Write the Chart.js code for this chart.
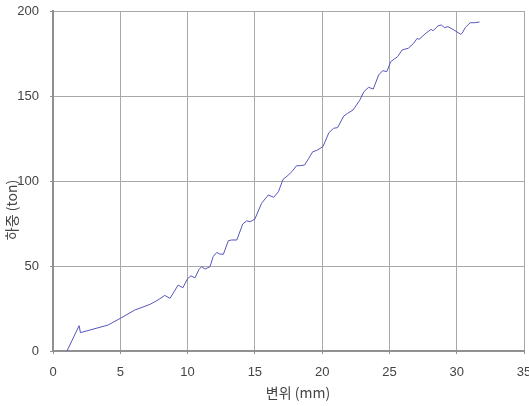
<!DOCTYPE html>
<html>
<head>
<meta charset="utf-8">
<script src="https://cdn.jsdelivr.net/npm/chart.js@4"></script>
<style>
html,body{margin:0;padding:0;background:#fff;}
#wrap{width:529px;height:406px;position:relative;}
</style>
</head>
<body>
<div id="wrap"><canvas id="c" width="529" height="406"></canvas></div>
<script>
// Displacement (mm)
const dispMm = [1.04, 1.94, 2.04, 4.1, 5.0, 6.08, 7.2, 7.8, 8.3, 8.7, 9.3, 9.65, 10.0, 10.25, 10.55, 10.85, 11.05, 11.3, 11.67, 11.9, 12.17, 12.4, 12.66, 13.03, 13.28, 13.66, 14.1, 14.4, 14.65, 15.0, 15.5, 16.0, 16.4, 16.75, 17.1, 17.4, 17.75, 18.1, 18.37, 18.7, 19.0, 19.3, 19.6, 20.06, 20.5, 20.85, 21.15, 21.6, 21.9, 22.3, 22.8, 23.1, 23.45, 23.8, 24.2, 24.5, 24.8, 25.1, 25.6, 25.95, 26.4, 26.8, 27.06, 27.2, 27.7, 28.1, 28.25, 28.6, 28.85, 29.1, 29.35, 29.8, 30.3, 30.4, 30.65, 31.0, 31.3, 31.7];
// Load (ton)
const loadTon = [0, 14.9, 10.8, 15.3, 19.2, 24.1, 27.4, 30, 32.7, 31, 38.8, 37.2, 42.5, 44.2, 43, 48, 49.6, 48.2, 49.6, 55.5, 58, 57, 56.9, 64.9, 65.3, 65.3, 74.7, 76.6, 76, 77.6, 86.9, 91.8, 90.4, 93.7, 101, 102.9, 105.5, 109, 109, 109.4, 113.3, 117.2, 118, 120.2, 128.4, 131, 131.4, 138.2, 139.8, 141.8, 147.6, 152.5, 155.1, 154.1, 162.4, 164.9, 164.3, 170.2, 173.1, 177.1, 178.1, 181, 183.9, 183.3, 186.9, 189.2, 188.4, 191.2, 191.8, 190.2, 190.8, 188.8, 186.3, 186.9, 190.4, 193.1, 193.1, 193.5];
const xTicks = [0, 5, 10, 15, 20, 25, 30, 35];
const yTicks = [0, 50, 100, 150, 200];
const xTitle = '변위 (mm)';
const yTitle = '하중 (ton)';

const points = dispMm.map((x, i) => ({x: x, y: loadTon[i]}));
const FONT = "'Noto Sans CJK KR', 'DejaVu Sans', sans-serif";
const NUMFONT = "'Liberation Sans', 'DejaVu Sans', sans-serif";

const titlePlugin = {
  id: 'axisTitles',
  afterDraw(chart) {
    const ctx = chart.ctx;
    ctx.save();
    ctx.fillStyle = '#444';
    ctx.font = '14px ' + FONT;
    ctx.textAlign = 'center';
    ctx.textBaseline = 'middle';
    ctx.fillText(xTitle, 298, 393);
    ctx.translate(12, 210);
    ctx.rotate(-Math.PI / 2);
    ctx.fillText(yTitle, 0, 0);
    ctx.restore();
  }
};

new Chart(document.getElementById('c'), {
  type: 'scatter',
  data: {
    datasets: [{
      data: points,
      showLine: true,
      borderColor: '#5656bc',
      borderWidth: 1,
      pointRadius: 0,
      tension: 0
    }]
  },
  options: {
    responsive: false,
    animation: false,
    events: [],
    layout: {padding: {top: 11, right: 5, bottom: 0, left: 0}},
    plugins: {legend: {display: false}, tooltip: {enabled: false}},
    scales: {
      x: {
        type: 'linear', min: 0, max: 35,
        afterBuildTicks(s) { s.ticks = xTicks.map(v => ({value: v})); },
        afterFit(s) { s.height = 55; s.paddingLeft = 0; s.paddingRight = 0; },
        grid: {color: '#a8a8a8', lineWidth: 1, tickLength: 3, tickColor: '#909090'},
        border: {color: '#909090', width: 2},
        ticks: {color: '#444', font: {family: NUMFONT, size: 13}, padding: 11, maxRotation: 0, autoSkip: false}
      },
      y: {
        type: 'linear', min: 0, max: 200,
        afterBuildTicks(s) { s.ticks = yTicks.map(v => ({value: v})); },
        afterFit(s) { s.width = 53; s.paddingTop = 0; s.paddingBottom = 0; },
        grid: {color: '#a8a8a8', lineWidth: 1, tickLength: 3, tickColor: '#909090'},
        border: {color: '#909090', width: 2},
        ticks: {color: '#444', font: {family: NUMFONT, size: 13}, padding: 11, autoSkip: false}
      }
    }
  },
  plugins: [titlePlugin]
});
</script>
</body>
</html>
